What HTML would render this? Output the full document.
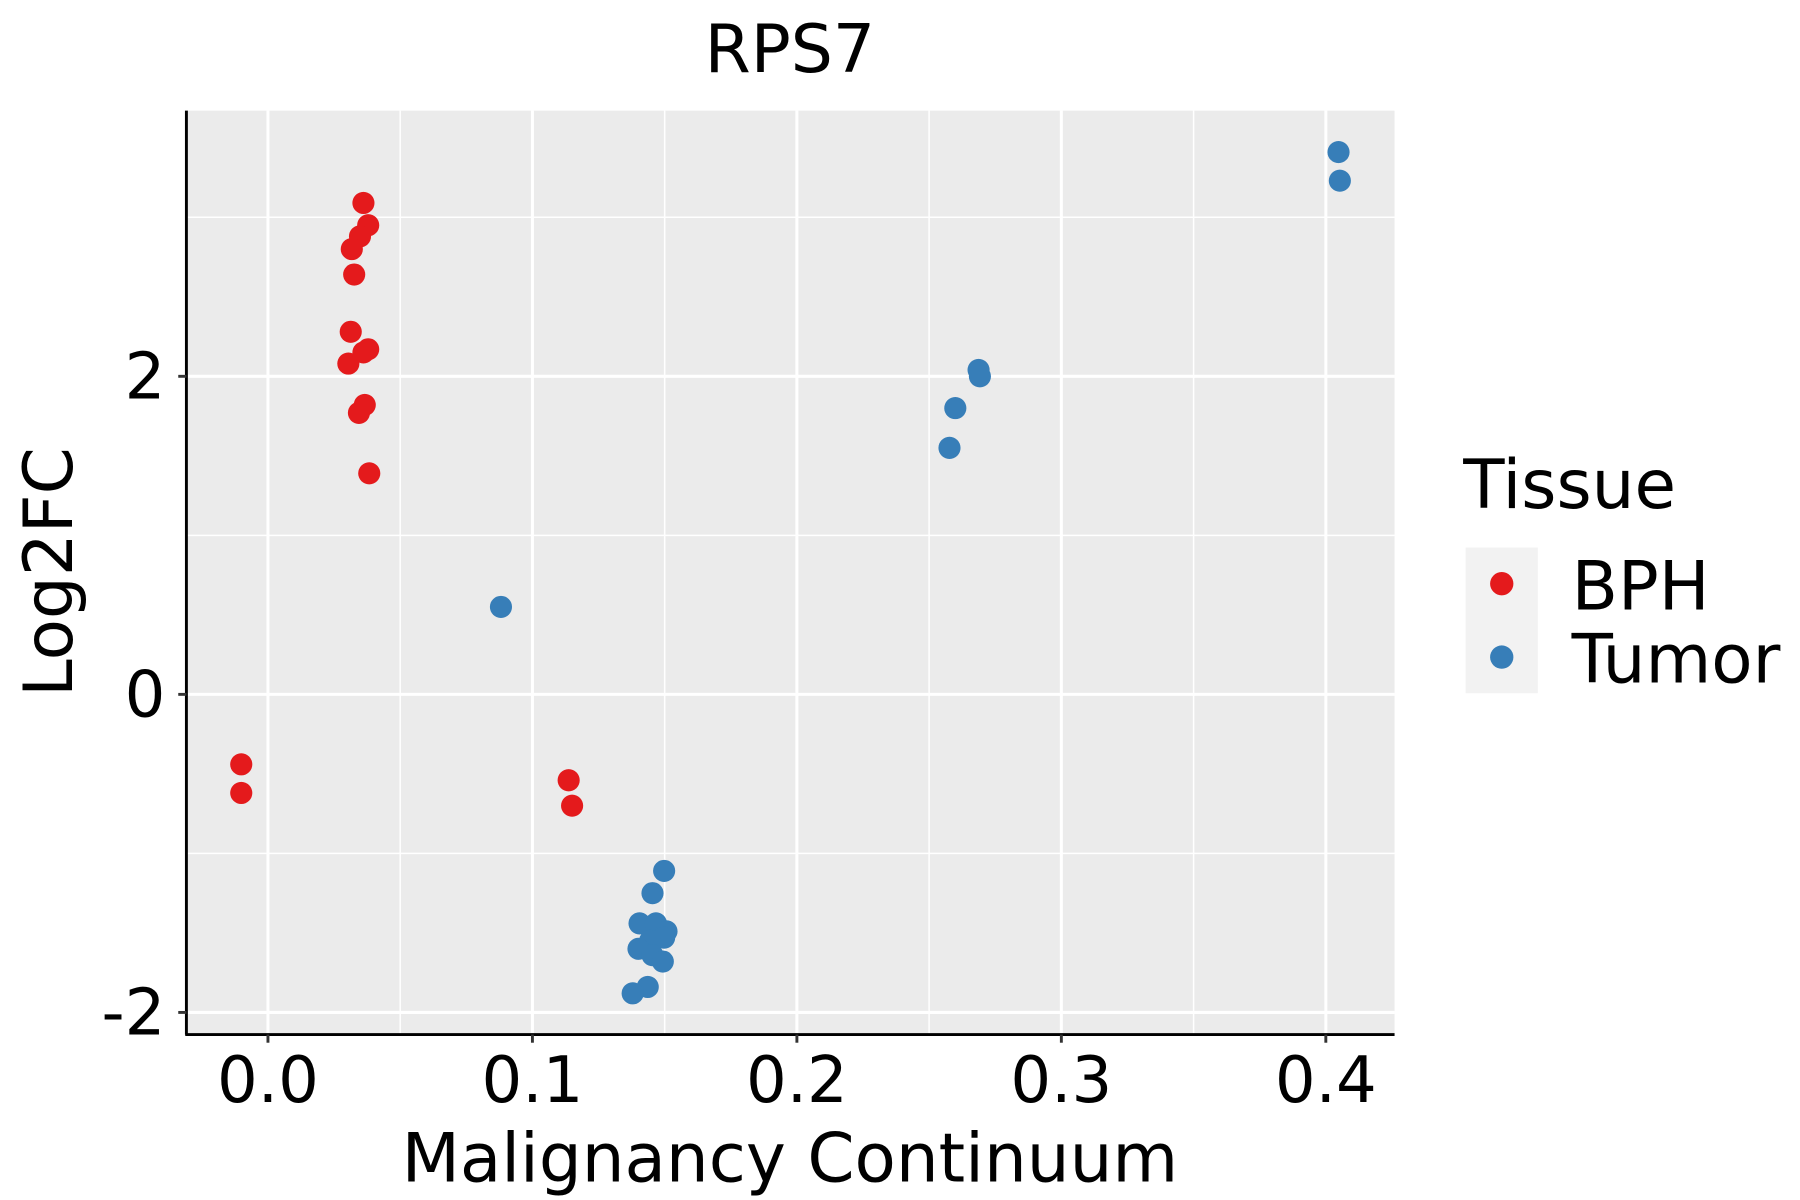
<!DOCTYPE html>
<html><head><meta charset="utf-8"><style>
html,body{margin:0;padding:0;background:#fff}
svg{display:block}
text{font-family:"DejaVu Sans","Liberation Sans",sans-serif;fill:#000}
</style></head><body>
<svg id="chart" width="1800" height="1200" viewBox="0 0 1545 1030" preserveAspectRatio="none" xmlns="http://www.w3.org/2000/svg">
<rect x="160" y="95" width="1037" height="793" fill="#ebebeb"/>
<g id="grid"></g>
<g id="points"></g>
<line x1="160" y1="95" x2="160" y2="888" stroke="#000" stroke-width="2.5"/>
<line x1="159" y1="888" x2="1197" y2="888" stroke="#000" stroke-width="2.5"/>
<g id="ticks"></g>
<text x="678" y="62" font-size="57" text-anchor="middle">RPS7</text>
<text x="678" y="1014" font-size="58" text-anchor="middle">Malignancy Continuum</text>
<text transform="translate(62,491) rotate(-90)" font-size="58" text-anchor="middle">Log2FC</text>
<g>
<text x="1256" y="436" font-size="58">Tissue</text>
<rect x="1258" y="470" width="62" height="125" fill="#f2f2f2"/>
<circle cx="1289" cy="501" r="10" fill="#e41a1c"/>
<circle cx="1289" cy="564" r="10" fill="#377eb8"/>
<text x="1349" y="523" font-size="58">BPH</text>
<text x="1349" y="586" font-size="58">Tumor</text>
</g>
</svg>
<script>
const bphX=[0.0361,0.0379,0.0348,0.0317,0.0326,0.0313,0.0379,0.0361,0.0304,0.0366,0.0344,0.0383,-0.0101,-0.0101,0.1137,0.1150];
const bphY=[3.09,2.95,2.88,2.80,2.64,2.28,2.17,2.15,2.08,1.82,1.77,1.39,-0.44,-0.62,-0.54,-0.70];
const tumorX=[0.4048,0.4053,0.2687,0.2692,0.2599,0.2577,0.0881,0.1498,0.1454,0.1405,0.1467,0.1507,0.1498,0.1445,0.1401,0.1454,0.1493,0.1436,0.1379];
const tumorY=[3.41,3.23,2.04,2.00,1.80,1.55,0.55,-1.11,-1.25,-1.44,-1.44,-1.49,-1.53,-1.55,-1.60,-1.64,-1.68,-1.84,-1.88];
const xTicks=[0,0.1,0.2,0.3,0.4];
const xTickLabels=["0.0","0.1","0.2","0.3","0.4"];
const xMinor=[0.05,0.15,0.25,0.35];
const yTicks=[-2,0,2];
const yTickLabels=["-2","0","2"];
const yMinor=[-1,1,3];
const NS="http://www.w3.org/2000/svg";
function sx(v){return 230+v*2270;}
function sy(v){return 596-v*136.5;}
function mk(tag,attrs,parent){const e=document.createElementNS(NS,tag);for(const k in attrs)e.setAttribute(k,attrs[k]);parent.appendChild(e);return e;}
const grid=document.getElementById('grid'),ticks=document.getElementById('ticks'),pts=document.getElementById('points');
xMinor.forEach(v=>{const l=mk('line',{x1:sx(v),x2:sx(v),y1:95,y2:888,stroke:'#fff','stroke-width':1.3},grid);

});
yMinor.forEach(v=>{const l=mk('line',{x1:160,x2:1197,y1:sy(v),y2:sy(v),stroke:'#fff','stroke-width':1.3},grid);

});
xTicks.forEach((v,i)=>{const l=mk('line',{x1:sx(v),x2:sx(v),y1:95,y2:888,stroke:'#fff','stroke-width':2.6},grid);


const t=mk('line',{x1:sx(v),x2:sx(v),y1:888,y2:895,stroke:'#333','stroke-width':2.5},ticks);


const tx=mk('text',{x:sx(v),y:946,'font-size':55,'text-anchor':'middle'},ticks);tx.textContent=xTickLabels[i];

});
yTicks.forEach((v,i)=>{const l=mk('line',{x1:160,x2:1197,y1:sy(v),y2:sy(v),stroke:'#fff','stroke-width':2.6},grid);


const t=mk('line',{x1:153,x2:160,y1:sy(v),y2:sy(v),stroke:'#333','stroke-width':2.5},ticks);


const tx=mk('text',{x:142,y:sy(v)+19,'font-size':55,'text-anchor':'end'},ticks);tx.textContent=yTickLabels[i];

});
bphX.forEach((x,i)=>{const c=mk('circle',{cx:sx(x),cy:sy(bphY[i]),r:9.5,fill:'#e41a1c'},pts);

});
tumorX.forEach((x,i)=>{const c=mk('circle',{cx:sx(x),cy:sy(tumorY[i]),r:9.5,fill:'#377eb8'},pts);

});
</script>
</body></html>
